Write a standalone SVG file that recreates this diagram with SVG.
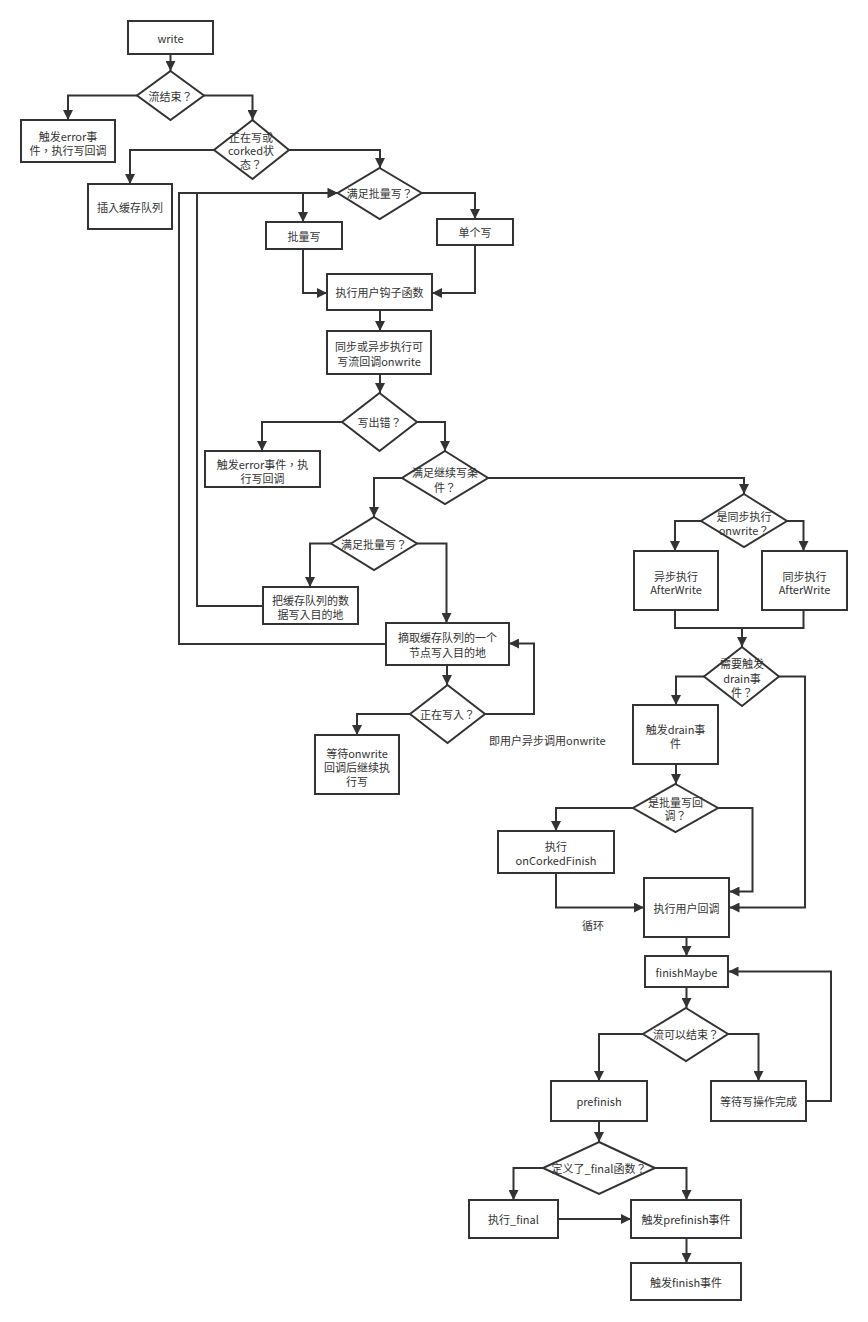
<svg xmlns="http://www.w3.org/2000/svg" width="868" height="1322" viewBox="0 0 868 1322">
<style>
.n rect,.n polygon{fill:#fff;stroke:#333;stroke-width:2}
.t{font-family:"Noto Sans CJK TC","Noto Sans CJK SC","Noto Sans",sans-serif;font-size:11px;fill:#333;text-anchor:middle;dominant-baseline:central}
.l{font-family:"Noto Sans CJK TC","Noto Sans CJK SC","Noto Sans",sans-serif;font-size:11px;fill:#333;dominant-baseline:central}
#edges path{fill:none;stroke:#333;stroke-width:2}
</style>
<defs>
<marker id="a" viewBox="0 0 10 10" refX="10" refY="5" markerWidth="11" markerHeight="10" markerUnits="userSpaceOnUse" orient="auto"><path d="M0,0 L10,5 L0,10 z" fill="#333"/></marker>
</defs>
<rect width="868" height="1322" fill="#fff"/>
<g id="edges">
<path d="M170.5,54 V71" marker-end="url(#a)"/>
<path d="M137,95.5 H68 V120" marker-end="url(#a)"/>
<path d="M204,95.5 H252.5 V120" marker-end="url(#a)"/>
<path d="M214,150 H130 V184" marker-end="url(#a)"/>
<path d="M289,150 H380 V168" marker-end="url(#a)"/>
<path d="M337.7,193 H303 V222" marker-end="url(#a)"/>
<path d="M421.7,193 H475 V219" marker-end="url(#a)"/>
<path d="M303,249 V293 H327" marker-end="url(#a)"/>
<path d="M475,245 V293 H432" marker-end="url(#a)"/>
<path d="M380,310 V331" marker-end="url(#a)"/>
<path d="M380,374 V393" marker-end="url(#a)"/>
<path d="M342,422 H262 V451" marker-end="url(#a)"/>
<path d="M417,422 H445 V451" marker-end="url(#a)"/>
<path d="M402,478 H374 V517" marker-end="url(#a)"/>
<path d="M488,478 H744 V494" marker-end="url(#a)"/>
<path d="M331,543.5 H310 V587" marker-end="url(#a)"/>
<path d="M417,543.5 H446.5 V623" marker-end="url(#a)"/>
<path d="M263,606 H197 V193 H337.7" marker-end="url(#a)"/>
<path d="M386,644 H179 V193 H337.7" marker-end="url(#a)"/>
<path d="M447,665 V685" marker-end="url(#a)"/>
<path d="M410,714 H357 V735" marker-end="url(#a)"/>
<path d="M485,714 H534 V643.5 H509" marker-end="url(#a)"/>
<path d="M701,521 H675 V551" marker-end="url(#a)"/>
<path d="M787,521 H803.5 V551" marker-end="url(#a)"/>
<path d="M675,610 V628 H803.5 V610"/>
<path d="M742,628 V647" marker-end="url(#a)"/>
<path d="M704,676.5 H676 V705" marker-end="url(#a)"/>
<path d="M779,676.5 H805 V907.5 H729.5" marker-end="url(#a)"/>
<path d="M676,764 V784" marker-end="url(#a)"/>
<path d="M633,808 H556 V831" marker-end="url(#a)"/>
<path d="M718,808 H752.5 V891.5 H729.5" marker-end="url(#a)"/>
<path d="M556,873 V907.5 H644" marker-end="url(#a)"/>
<path d="M686.5,937 V956" marker-end="url(#a)"/>
<path d="M686.5,987 V1008" marker-end="url(#a)"/>
<path d="M643,1034 H599 V1081" marker-end="url(#a)"/>
<path d="M728,1034 H758.5 V1081" marker-end="url(#a)"/>
<path d="M806,1101 H831 V971.5 H728.5" marker-end="url(#a)"/>
<path d="M599,1121 V1142" marker-end="url(#a)"/>
<path d="M543,1168 H513.5 V1200" marker-end="url(#a)"/>
<path d="M655,1168 H686.5 V1200" marker-end="url(#a)"/>
<path d="M558,1219 H631" marker-end="url(#a)"/>
<path d="M686.5,1238 V1263" marker-end="url(#a)"/>
</g>
<g id="write" class="n"><rect x="128" y="21" width="85" height="33"/><text class="t" x="170.5" y="37.5">write</text></g>
<g id="d_end" class="n"><polygon points="170.5,71 204,95.5 170.5,120 137,95.5"/><text class="t" x="170.5" y="95.5">流结束？</text></g>
<g id="err1" class="n"><rect x="21" y="120" width="94" height="42"/><text class="t" x="68" y="136">触发error事</text><text class="t" x="68" y="150">件，执行写回调</text></g>
<g id="d_corked" class="n"><polygon points="252.5,120 289,150 252.5,179 214,150"/><text class="t" x="251" y="136.5">正在写或</text><text class="t" x="251" y="150">corked状</text><text class="t" x="251" y="164">态？</text></g>
<g id="queue" class="n"><rect x="88" y="184" width="84" height="45"/><text class="t" x="130" y="207">插入缓存队列</text></g>
<g id="d_batch1" class="n"><polygon points="379.7,168 421.7,193 379.7,219 337.7,193"/><text class="t" x="379.7" y="193">满足批量写？</text></g>
<g id="batch" class="n"><rect x="266" y="222" width="76" height="27"/><text class="t" x="304" y="235.5">批量写</text></g>
<g id="single" class="n"><rect x="437" y="219" width="76" height="26"/><text class="t" x="475" y="232">单个写</text></g>
<g id="hook" class="n"><rect x="327" y="274" width="105" height="36"/><text class="t" x="379.5" y="292">执行用户钩子函数</text></g>
<g id="onwrite" class="n"><rect x="327" y="331" width="104" height="43"/><text class="t" x="379" y="346">同步或异步执行可</text><text class="t" x="379" y="360.5">写流回调onwrite</text></g>
<g id="d_err" class="n"><polygon points="379.5,393 417,422 379.5,451 342,422"/><text class="t" x="379.5" y="422">写出错？</text></g>
<g id="err2" class="n"><rect x="205" y="451" width="115" height="36"/><text class="t" x="262.5" y="464">触发error事件，执</text><text class="t" x="262.5" y="478">行写回调</text></g>
<g id="d_cont" class="n"><polygon points="445,451 488,478 445,504 402,478"/><text class="t" x="445" y="471.5">满足继续写条</text><text class="t" x="445" y="486.5">件？</text></g>
<g id="d_batch2" class="n"><polygon points="374,517 417,543.5 374,570 331,543.5"/><text class="t" x="374" y="543.5">满足批量写？</text></g>
<g id="writeall" class="n"><rect x="263" y="587" width="95" height="37"/><text class="t" x="310.5" y="600">把缓存队列的数</text><text class="t" x="310.5" y="614">据写入目的地</text></g>
<g id="writeone" class="n"><rect x="386" y="623" width="123" height="42"/><text class="t" x="447.5" y="637">摘取缓存队列的一个</text><text class="t" x="447.5" y="651.5">节点写入目的地</text></g>
<g id="d_writing" class="n"><polygon points="447.5,685 485,714 447.5,743 410,714"/><text class="t" x="447.5" y="714">正在写入？</text></g>
<g id="wait1" class="n"><rect x="315" y="735" width="84" height="59"/><text class="t" x="357" y="753">等待onwrite</text><text class="t" x="357" y="767">回调后继续执</text><text class="t" x="357" y="781">行写</text></g>
<text class="l" x="489" y="739.5">即用户异步调用onwrite</text>
<g id="d_sync" class="n"><polygon points="744,494 787,521 744,547 701,521"/><text class="t" x="744" y="516">是同步执行</text><text class="t" x="744" y="530">onwrite？</text></g>
<g id="async_aw" class="n"><rect x="634" y="551" width="84" height="59"/><text class="t" x="676" y="575.5">异步执行</text><text class="t" x="676" y="589">AfterWrite</text></g>
<g id="sync_aw" class="n"><rect x="762" y="551" width="85" height="59"/><text class="t" x="804.5" y="575.5">同步执行</text><text class="t" x="804.5" y="589">AfterWrite</text></g>
<g id="d_drain" class="n"><polygon points="742,647 779,676.5 742,706 704,676.5"/><text class="t" x="742" y="663">需要触发</text><text class="t" x="742" y="677.5">drain事</text><text class="t" x="742" y="691.5">件？</text></g>
<g id="drain" class="n"><rect x="633" y="705" width="85" height="59"/><text class="t" x="675.5" y="729">触发drain事</text><text class="t" x="675.5" y="743">件</text></g>
<g id="d_corkcb" class="n"><polygon points="675.5,784 718,808 675.5,832 633,808"/><text class="t" x="675.5" y="801.5">是批量写回</text><text class="t" x="675.5" y="815">调？</text></g>
<g id="corked" class="n"><rect x="498" y="831" width="116" height="42"/><text class="t" x="556" y="845.5">执行</text><text class="t" x="556" y="859.5">onCorkedFinish</text></g>
<text class="t" x="593" y="925">循环</text>
<g id="usercb" class="n"><rect x="644" y="878" width="85" height="59"/><text class="t" x="686.5" y="908">执行用户回调</text></g>
<g id="finishMaybe" class="n"><rect x="645" y="956" width="83" height="31"/><text class="t" x="686.5" y="972">finishMaybe</text></g>
<g id="d_canend" class="n"><polygon points="686,1008 728,1034 686,1061 643,1034"/><text class="t" x="686" y="1034">流可以结束？</text></g>
<g id="prefinish" class="n"><rect x="551" y="1081" width="96" height="40"/><text class="t" x="599" y="1101">prefinish</text></g>
<g id="wait2" class="n"><rect x="711" y="1081" width="95" height="40"/><text class="t" x="758.5" y="1101">等待写操作完成</text></g>
<g id="d_final" class="n"><polygon points="599,1142 655,1168 599,1194 543,1168"/><text class="t" x="599" y="1168">定义了_final函数？</text></g>
<g id="final" class="n"><rect x="469" y="1200" width="89" height="38"/><text class="t" x="513.5" y="1219">执行_final</text></g>
<g id="ev_prefinish" class="n"><rect x="631" y="1200" width="110" height="38"/><text class="t" x="686" y="1219">触发prefinish事件</text></g>
<g id="ev_finish" class="n"><rect x="631" y="1263" width="110" height="37"/><text class="t" x="686" y="1281.5">触发finish事件</text></g>
</svg>
